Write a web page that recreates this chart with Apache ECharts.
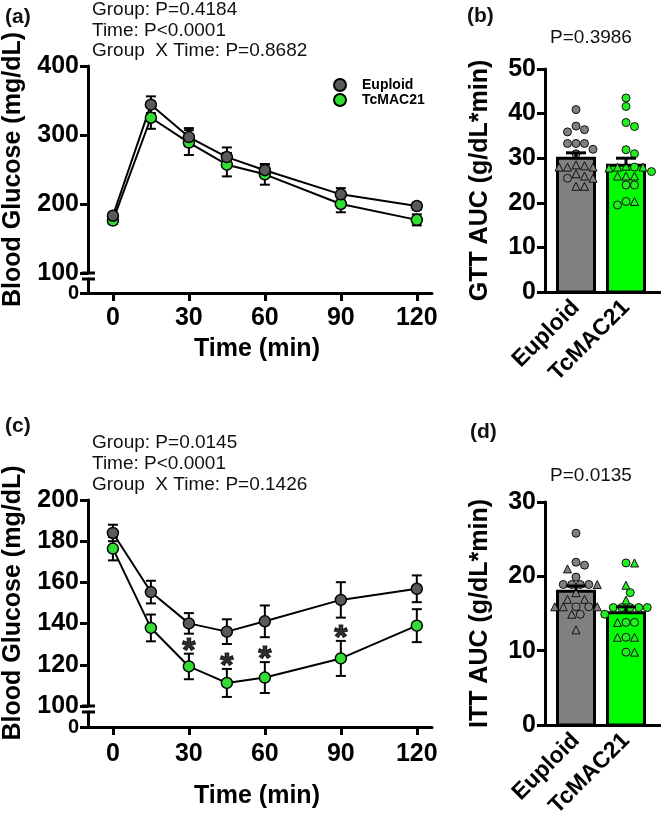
<!DOCTYPE html>
<html>
<head>
<meta charset="utf-8">
<script src="https://cdn.jsdelivr.net/npm/echarts@6.0.0/dist/echarts.min.js"></script>
<style>
html, body { margin: 0; padding: 0; background: #fff; }
#main { width: 661px; height: 828px; }
</style>
</head>
<body>
<div id="main"></div>
<script>
// values
var times = [0, 15, 30, 45, 60, 90, 120];
var timeTicks = [0, 30, 60, 90, 120];
var groups = ['Euploid', 'TcMAC21'];

// (a) GTT, mean and SEM
var gttEuploid = [183, 344, 297, 268, 249, 214, 197];
var gttEuploidSem = [4, 12, 13, 14, 8, 9, 5];
var gttTc = [176, 325, 289, 257, 243, 200, 177];
var gttTcSem = [5, 16, 18, 17, 15, 12, 8];
var gttStats = ['Group: P=0.4184', 'Time: P<0.0001', 'Group  X Time: P=0.8682'];

// (b) GTT AUC
var gttAucMean = [30.0, 28.4];
var gttAucSem = [1.2, 1.6];
var gttAucEuploidCircles = [40.9, 37.2, 36.4, 35.9, 33.3, 33.3, 33.3, 32.0, 31.0, 25.5];
var gttAucEuploidTriangles = [28.5, 28.0, 28.0, 28.0, 28.3, 26.0, 25.5, 26.5, 23.7, 23.7];
var gttAucTcCircles = [43.5, 41.6, 38.0, 37.1, 31.9, 31.0, 28.0, 27.0, 24.0, 24.0, 19.5, 20.3];
var gttAucTcTriangles = [28.0, 28.0, 27.8, 28.2, 26.0, 26.0, 26.0, 20.3];
var gttAucP = 'P=0.3986';

// (c) ITT, mean and SEM
var ittEuploid = [184.0, 155.3, 140.1, 136.1, 141.1, 151.5, 156.9];
var ittEuploidSem = [4.0, 5.5, 5.0, 6.0, 7.7, 8.6, 6.5];
var ittTc = [176.4, 137.9, 119.2, 111.2, 113.8, 123.1, 139.0];
var ittTcSem = [5.7, 6.5, 6.2, 6.8, 7.5, 8.5, 8.0];
var ittStarTimes = [30, 45, 60, 90];
var ittStats = ['Group: P=0.0145', 'Time: P<0.0001', 'Group  X Time: P=0.1426'];

// (d) ITT AUC
var ittAucMean = [18.0, 15.1];
var ittAucSem = [0.7, 0.8];
var ittAucEuploidCircles = [25.8, 21.9, 21.5, 19.9, 18.9, 18.9, 18.9, 18.9, 15.9, 15.9, 14.9];
var ittAucEuploidTriangles = [21.0, 18.9, 17.8, 16.9, 16.9, 15.9, 15.9, 15.9, 14.9, 12.8];
var ittAucTcCircles = [21.8, 17.8, 15.8, 15.8, 15.8, 15.8, 15.8, 14.9, 13.8, 13.8, 11.8, 9.8];
var ittAucTcTriangles = [21.8, 18.8, 16.8, 13.8, 11.8, 11.8, 9.8];
var ittAucP = 'P=0.0135';

var FONT = "'Liberation Sans', Arial, sans-serif";
var lineColors = ['#5a5a5a', '#33dd33'];
var barColors = ['#808080', '#00ff00'];
var dotColors = ['#808080', '#22ee22'];

// layout
var LINE_LEFT = 82, LINE_W = 350, Y_SHIFT = 6;
var X_MIN = -12.2, X_MAX = 126;
var BAR_LEFT = 545, BAR_W = 115, BX_MIN = -0.62, BX_MAX = 1.68;
var BAR_H = 223;
var DOT = 8, DOT_STEP = 8.5;
var grids = [
    {left: LINE_LEFT, top: 66, width: LINE_W, height: 207},   // a, 100-400
    {left: LINE_LEFT, top: 279, width: LINE_W, height: 14},   // a, 0
    {left: BAR_LEFT, top: 69, width: BAR_W, height: BAR_H},   // b
    {left: LINE_LEFT, top: 500, width: LINE_W, height: 206},  // c, 100-200
    {left: LINE_LEFT, top: 712, width: LINE_W, height: 15},   // c, 0
    {left: BAR_LEFT, top: 502, width: BAR_W, height: BAR_H}   // d
];

function zip(xs, ys) {
    return xs.map(function(x, i) { return [x, ys[i]]; });
}
function extend(a, b) {
    for (var k in b) a[k] = b[k];
    return a;
}

function axisLine() {
    return {show: true, onZero: false, lineStyle: {color: '#000', width: 3}};
}
function axisTick(custom) {
    var t = {show: true, length: 8, lineStyle: {color: '#000', width: 3}};
    if (custom) t.customValues = custom;
    return t;
}
function label(size, extra) {
    return extend({color: '#000', fontSize: size, fontWeight: 'bold', fontFamily: FONT}, extra);
}
var nameStyle = {color: '#000', fontSize: 25, fontWeight: 'bold', fontFamily: FONT};

// simple beeswarm so points with close values sit side by side
function swarm(circles, triangles, center, pxY) {
    var pxX = BAR_W / (BX_MAX - BX_MIN);
    var pts = circles.map(function(v) { return {v: v, s: 'circle'}; })
        .concat(triangles.map(function(v) { return {v: v, s: 'triangle'}; }));
    pts.sort(function(a, b) { return b.v - a.v; });
    var placed = [];
    return pts.map(function(p) {
        var y = p.v * pxY, x = 0;
        for (var k = 0; k < 60; k++) {
            x = (k % 2 ? 1 : -1) * Math.ceil(k / 2) * DOT_STEP / 2;
            var hit = placed.some(function(q) {
                return Math.sqrt((q[0] - x) * (q[0] - x) + (q[1] - y) * (q[1] - y)) < DOT_STEP - 0.3;
            });
            if (!hit) break;
        }
        placed.push([x, y]);
        return {value: [center + x / pxX, p.v], symbol: p.s};
    });
}

function errorSeries(xi, means, sems, capPx) {
    return {
        type: 'custom', xAxisIndex: xi, yAxisIndex: xi, z: 3, silent: true,
        data: times.map(function(t, i) { return [t, means[i] - sems[i], means[i] + sems[i]]; }),
        renderItem: function(params, api) {
            var lo = api.coord([api.value(0), api.value(1)]);
            var hi = api.coord([api.value(0), api.value(2)]);
            var st = {stroke: '#000', lineWidth: 2};
            return {type: 'group', children: [
                {type: 'line', shape: {x1: lo[0], y1: lo[1], x2: hi[0], y2: hi[1]}, style: st},
                {type: 'line', shape: {x1: lo[0] - capPx, y1: lo[1], x2: lo[0] + capPx, y2: lo[1]}, style: st},
                {type: 'line', shape: {x1: hi[0] - capPx, y1: hi[1], x2: hi[0] + capPx, y2: hi[1]}, style: st}
            ]};
        }
    };
}

function lineSeries(xi, name, values, color) {
    return {
        type: 'line', name: name, xAxisIndex: xi, yAxisIndex: xi, z: 4,
        data: zip(times, values),
        symbol: 'circle', symbolSize: 11, showSymbol: true,
        lineStyle: {color: '#000', width: 2},
        itemStyle: {color: color, borderColor: '#000', borderWidth: 1.5}
    };
}

function barSeries(xi, means) {
    var half = 0.37;
    return {
        type: 'custom', xAxisIndex: xi, yAxisIndex: xi, z: 2, silent: true,
        data: means.map(function(m, i) { return [i, m]; }),
        renderItem: function(params, api) {
            var i = api.value(0);
            var p0 = api.coord([i - half, api.value(1)]);
            var p1 = api.coord([i + half, 0]);
            return {type: 'rect',
                shape: {x: p0[0], y: p0[1], width: p1[0] - p0[0], height: p1[1] - p0[1]},
                style: {fill: barColors[i], stroke: '#000', lineWidth: 3}};
        }
    };
}

function barErrorSeries(xi, means, sems) {
    var cap = 0.2;
    return {
        type: 'custom', xAxisIndex: xi, yAxisIndex: xi, z: 5, silent: true,
        data: means.map(function(m, i) { return [i, m, m + sems[i]]; }),
        renderItem: function(params, api) {
            var i = api.value(0);
            var lo = api.coord([i, api.value(1)]);
            var hi = api.coord([i, api.value(2)]);
            var l = api.coord([i - cap, api.value(2)]);
            var r = api.coord([i + cap, api.value(2)]);
            var st = {stroke: '#000', lineWidth: 3};
            return {type: 'group', children: [
                {type: 'line', shape: {x1: lo[0], y1: lo[1], x2: hi[0], y2: hi[1]}, style: st},
                {type: 'line', shape: {x1: l[0], y1: l[1], x2: r[0], y2: r[1]}, style: st}
            ]};
        }
    };
}

function dotSeries(xi, data, color) {
    return {
        type: 'scatter', xAxisIndex: xi, yAxisIndex: xi, z: 4, silent: true,
        data: data, symbolSize: DOT,
        itemStyle: {color: color, borderColor: '#111', borderWidth: 1, opacity: 1}
    };
}

function lineXAxes(idx, nameGap, labelMargin) {
    return [
        {gridIndex: idx, type: 'value', min: X_MIN, max: X_MAX, show: false},
        {gridIndex: idx + 1, type: 'value', min: X_MIN, max: X_MAX,
            axisLine: axisLine(), axisTick: axisTick(timeTicks),
            axisLabel: label(25, {customValues: timeTicks, margin: labelMargin}),
            splitLine: {show: false},
            name: 'Time (min)', nameLocation: 'middle', nameGap: nameGap, nameTextStyle: nameStyle}
    ];
}
function lineYAxes(idx, min, max, interval) {
    return [
        {gridIndex: idx, type: 'value', min: min, max: max, interval: interval, offset: -Y_SHIFT,
            axisLine: axisLine(), axisTick: axisTick(), axisLabel: label(25, {margin: 9}),
            splitLine: {show: false},
            name: 'Blood Glucose (mg/dL)', nameLocation: 'middle', nameGap: 62, nameTextStyle: nameStyle},
        {gridIndex: idx + 1, type: 'value', min: 0, max: 10, offset: -Y_SHIFT,
            axisLine: axisLine(), axisTick: axisTick([0]), axisLabel: label(20, {customValues: [0], margin: 9}),
            splitLine: {show: false}}
    ];
}
function barXAxis(idx, margin) {
    return {gridIndex: idx, type: 'value', min: BX_MIN, max: BX_MAX,
        axisLine: axisLine(), axisTick: {show: false},
        axisLabel: label(23, {customValues: [0, 1], rotate: 45, margin: margin,
            formatter: function(v) { return groups[Math.round(v)]; }}),
        splitLine: {show: false}};
}
function barYAxis(idx, max, name) {
    return {gridIndex: idx, type: 'value', min: 0, max: max, interval: 10,
        axisLine: axisLine(), axisTick: axisTick(), axisLabel: label(25, {margin: 9}),
        splitLine: {show: false},
        name: name, nameLocation: 'middle', nameGap: 52, nameTextStyle: nameStyle};
}

// text and axis-break marks
function text(x, y, str, size, bold, align, vAlign, lh) {
    return {type: 'text', x: x, y: y, silent: true, style: {
        text: str, fontSize: size, fontWeight: bold ? 'bold' : 'normal', fontFamily: FONT,
        fill: '#111', align: align || 'left', verticalAlign: vAlign || 'middle',
        lineHeight: lh || size}};
}
function breakMarks(main, low) {
    var x0 = main.left, x1 = main.left + Y_SHIFT * 2 + 1;
    var st = {stroke: '#000', lineWidth: 3};
    return [
        {type: 'line', silent: true, shape: {x1: x0, y1: main.top + main.height, x2: x1, y2: main.top + main.height}, style: st},
        {type: 'line', silent: true, shape: {x1: x0, y1: low.top, x2: x1, y2: low.top}, style: st}
    ];
}

var starData = ittStarTimes.map(function(t) {
    var i = times.indexOf(t);
    return [t, ittTc[i] + ittTcSem[i]];
});

var option = {
    animation: false,
    backgroundColor: '#fff',
    textStyle: {fontFamily: FONT},
    grid: grids.map(function(g) {
        return {left: g.left, top: g.top, width: g.width, height: g.height, outerBoundsMode: 'none'};
    }),
    legend: {
        left: 328, top: 73, orient: 'vertical', itemWidth: 12, itemHeight: 12, itemGap: 1,
        icon: 'circle', data: groups, selectedMode: false,
        textStyle: {color: '#000', fontSize: 14, fontWeight: 'bold', fontFamily: FONT, padding: [0, 0, 0, 11]}
    },
    xAxis: lineXAxes(0, 44, 13).concat([barXAxis(2, 12)], lineXAxes(3, 57, 15), [barXAxis(5, 12)]),
    yAxis: lineYAxes(0, 100, 400, 100).concat([barYAxis(2, 50, 'GTT AUC (g/dL*min)')],
        lineYAxes(3, 100, 200, 20), [barYAxis(5, 30, 'ITT AUC (g/dL*min)')]),
    series: [
        errorSeries(0, gttTc, gttTcSem, 5),
        errorSeries(0, gttEuploid, gttEuploidSem, 5),
        lineSeries(0, 'TcMAC21', gttTc, lineColors[1]),
        lineSeries(0, 'Euploid', gttEuploid, lineColors[0]),

        barSeries(2, gttAucMean),
        dotSeries(2, swarm(gttAucEuploidCircles, gttAucEuploidTriangles, 0, BAR_H / 50), dotColors[0]),
        dotSeries(2, swarm(gttAucTcCircles, gttAucTcTriangles, 1, BAR_H / 50), dotColors[1]),
        barErrorSeries(2, gttAucMean, gttAucSem),

        errorSeries(3, ittTc, ittTcSem, 5),
        errorSeries(3, ittEuploid, ittEuploidSem, 5),
        lineSeries(3, 'TcMAC21', ittTc, lineColors[1]),
        lineSeries(3, 'Euploid', ittEuploid, lineColors[0]),
        {
            type: 'scatter', xAxisIndex: 3, yAxisIndex: 3, z: 5, silent: true,
            data: starData, symbolSize: 1, itemStyle: {color: 'rgba(0,0,0,0)'},
            label: {show: true, formatter: '*', position: 'inside', offset: [0, -2],
                color: '#000', fontSize: 34, fontWeight: 'bold', fontFamily: FONT,
                textBorderColor: '#000', textBorderWidth: 1.2}
        },

        barSeries(5, ittAucMean),
        dotSeries(5, swarm(ittAucEuploidCircles, ittAucEuploidTriangles, 0, BAR_H / 30), dotColors[0]),
        dotSeries(5, swarm(ittAucTcCircles, ittAucTcTriangles, 1, BAR_H / 30), dotColors[1]),
        barErrorSeries(5, ittAucMean, ittAucSem)
    ],
    graphic: [
        text(5, 17, '(a)', 21, true),
        text(92, 0, gttStats.join('\n'), 19, false, 'left', 'top', 20.5),
        text(467, 16, '(b)', 21, true),
        text(591, 38, gttAucP, 19, false, 'center'),
        text(5, 426, '(c)', 21, true),
        text(92, 432, ittStats.join('\n'), 19, false, 'left', 'top', 21),
        text(470, 432, '(d)', 21, true),
        text(591, 476, ittAucP, 19, false, 'center')
    ].concat(breakMarks(grids[0], grids[1]), breakMarks(grids[3], grids[4]))
};

var chart = echarts.init(document.getElementById('main'));
chart.setOption(option);
</script>
</body>
</html>
